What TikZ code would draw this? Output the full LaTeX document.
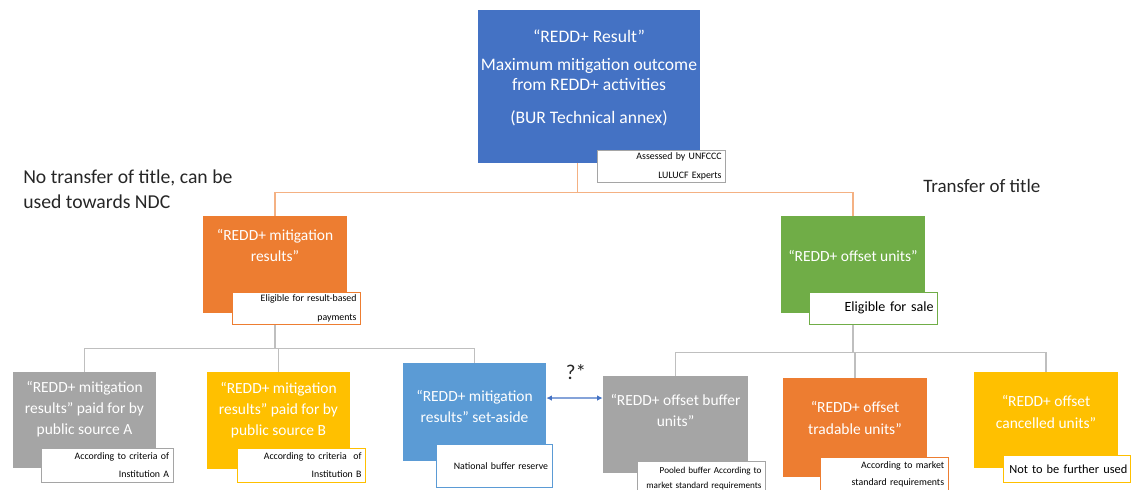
\documentclass[tikz,border=0pt]{standalone}
\usepackage{fontspec}
\setmainfont{Carlito}
\usetikzlibrary{backgrounds,arrows.meta}

\definecolor{resblue}{HTML}{4472C4}
\definecolor{mitorange}{HTML}{ED7D31}
\definecolor{offgreen}{HTML}{70AD47}
\definecolor{bufgray}{HTML}{A5A5A5}
\definecolor{srcyellow}{HTML}{FFC000}
\definecolor{setblue}{HTML}{5B9BD5}
\definecolor{lineorange}{HTML}{F4B183}
\definecolor{linegray}{HTML}{BFBFBF}

\tikzset{
	box/.style={fill=#1, text=white, align=center, minimum width=3.6cm,
		minimum height=2.425cm, inner sep=2pt, font=\fontsize{11}{15}\selectfont},
	lbl/.style={draw=#1, fill=white, anchor=north west, align=right,
		inner xsep=3pt, inner ysep=1pt, font=\fontsize{7}{13}\selectfont},
	topline/.style={draw=lineorange, line width=0.8pt},
	treeline/.style={draw=linegray, line width=0.8pt},
	note/.style={anchor=west, inner sep=0pt, align=left, text=black!85}
}

\begin{document}
\begin{tikzpicture}[x=0.025cm, y=-0.025cm]

		\useasboundingbox (0,0) rectangle (1136,489);

		% top level
		\node (top) at (589,86.5) [box=resblue, minimum width=5.45cm, minimum height=3.825cm,
		text depth=14pt, font=\fontsize{12.5}{14.2}\selectfont]
		{“REDD+ Result”\\[6.4pt] Maximum mitigation outcome\\from REDD+ activities\\[9.3pt] (BUR Technical annex)};
		\node (toplbl) at (597,150) [lbl=bufgray, text width=3.0cm, minimum height=0.8cm]
		{Assessed by UNFCCC\\LULUCF Experts};

		\node (notitle) at (23,189.5) [note, font=\fontsize{14}{17.8}\selectfont]
		{No transfer of title, can be\\used towards NDC};
		\node (title) at (923,186) [note, font=\fontsize{13.5}{16}\selectfont] {Transfer of title};

		% second level
		\node (mit) at (275,264.5) [box=mitorange, text depth=27pt] {“REDD+ mitigation\\results”};
		\node (mitlbl) at (232,292) [lbl=mitorange, text width=3.0cm, minimum height=0.8cm]
		{Eligible for result-based\\payments};

		\node (off) at (853,264.5) [box=offgreen, text depth=12pt] {“REDD+ offset units”};
		\node (offlbl) at (809,292) [lbl=offgreen, text width=3.0cm, minimum height=0.8cm,
		font=\fontsize{10}{12}\selectfont] {Eligible for sale};

		% third level, left
		\node (pa) at (84.5,420) [box=bufgray, minimum width=3.575cm, minimum height=2.4cm, text depth=17pt]
		{“REDD+ mitigation\\results” paid for by\\public source A};
		\node (palbl) at (41,448) [lbl=bufgray, text width=3.09cm, minimum height=0.85cm]
		{According to criteria of\\Institution A};

		\node (pb) at (278.5,420.5) [box=srcyellow, minimum width=3.575cm, text depth=17pt]
		{“REDD+ mitigation\\results” paid for by\\public source B};
		\node (pblbl) at (237,448) [lbl=srcyellow, text width=3.0cm, minimum height=0.85cm]
		{According to criteria\ \ of\\Institution B};

		\node (set) at (474.5,412) [box=setblue, minimum width=3.575cm, minimum height=2.45cm, text depth=8pt]
		{“REDD+ mitigation\\results” set-aside};
		\node (setlbl) at (436,444) [lbl=setblue, text width=2.69cm, minimum height=1.075cm]
		{National buffer reserve};

		% third level, right
		\node (buf) at (675.5,424.5) [box=bufgray, minimum width=3.625cm, text depth=20pt]
		{“REDD+ offset buffer\\units”};
		\node (buflbl) at (637,461) [lbl=bufgray, text width=3.0cm, minimum height=0.85cm,
		font=\fontsize{6.5}{10.7}\selectfont] {Pooled buffer According to\\market standard requirements};

		\node (trade) at (855,427.5) [box=mitorange, minimum height=2.475cm, text depth=13.7pt]
		{“REDD+ offset\\tradable units”};
		\node (tradelbl) at (820,457) [lbl=mitorange, text width=2.99cm, minimum height=0.85cm,
		font=\fontsize{7}{12}\selectfont] {According to market\\standard requirements};

		\node (cancel) at (1046,420) [box=srcyellow, minimum height=2.4cm, text depth=11.5pt]
		{“REDD+ offset\\cancelled units”};
		\node (cancellbl) at (1003,455) [lbl=srcyellow, inner xsep=2pt, text width=3.03cm, minimum height=0.675cm,
		font=\fontsize{8.8}{11}\selectfont] {\mbox{Not to be further used}};

		\node (ask) at (576,372) [font=\fontsize{15}{17}\selectfont, text=black!85] {?*};
		\draw [resblue, line width=0.9pt, {Latex[length=4pt,width=4pt]}-{Latex[length=4pt,width=4pt]}]
		(set.11) -- (buf.160);

		% connectors
		\begin{scope}[on background layer]
		\draw [topline] ([xshift=-0.28cm]top.south) -- ++(0,29) -| (mit.north);
		\draw [topline] ([xshift=-0.28cm]top.south) -- ++(0,29) -| (off.north);

		\draw [treeline] (mit.south) -- ++(0,35) -| (pa.north);
		\draw [treeline] (mit.south) -- ++(0,35) -| (pb.north);
		\draw [treeline] (mit.south) -- ++(0,35) -| (set.north);

		\draw [treeline] (off.south) -- ++(0,39) -| (buf.north);
		\draw [treeline] (off.south) -- ++(0,39) -| (trade.north);
		\draw [treeline] (off.south) -- ++(0,39) -| (cancel.north);
		\end{scope}

\end{tikzpicture}
\end{document}
